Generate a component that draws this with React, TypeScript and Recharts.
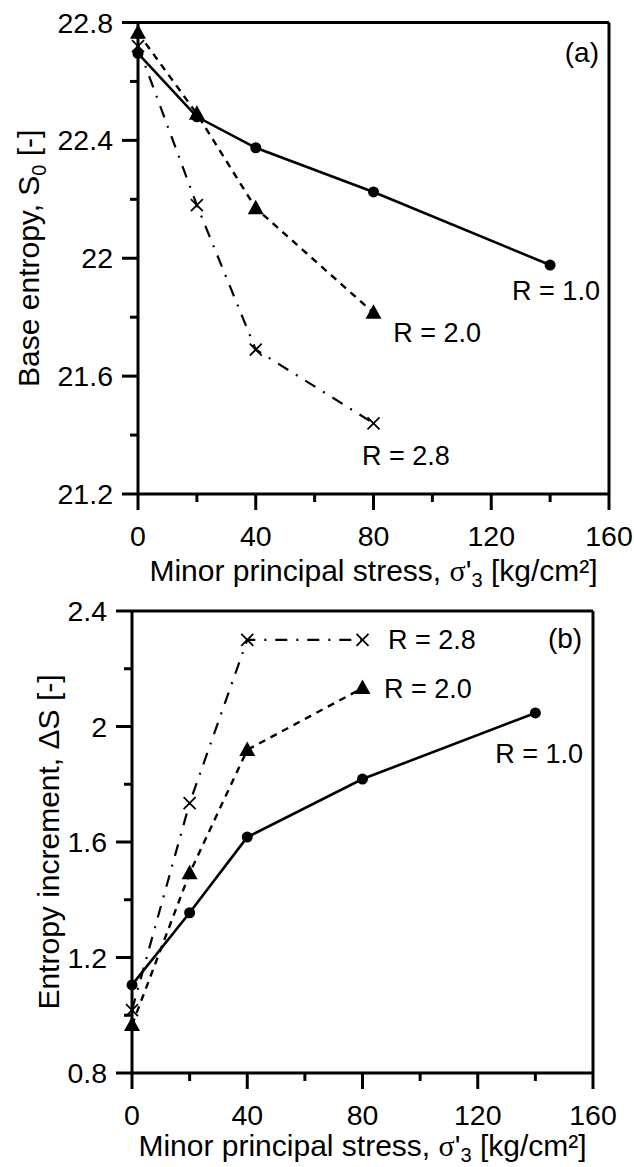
import React from 'react';
import { LineChart, Line, XAxis, YAxis, ReferenceLine, ReferenceDot, Label } from 'recharts';

// Minor principal stress levels (kg/cm²)
const stress = [0, 20, 40, 80, 140];

// (a) Base entropy S0 for each stress ratio R
const baseR10 = [22.695, 22.48, 22.375, 22.225, 21.977];
const baseR20 = [22.765, 22.49, 22.17, 21.815];
const baseR28 = [22.72, 22.18, 21.69, 21.44];

// (b) Entropy increment ΔS for each stress ratio R
const incR10 = [1.105, 1.355, 1.617, 1.818, 2.047];
const incR20 = [0.966, 1.492, 1.919, 2.133];
const incR28 = [1.018, 1.735, 2.3, 2.3];

// Axis ticks (major + minor)
const stressTicks = [0, 20, 40, 60, 80, 100, 120, 140, 160];
const baseTicks = [21.2, 21.4, 21.6, 21.8, 22.0, 22.2, 22.4, 22.6, 22.8];
const incTicks = [0.8, 1.0, 1.2, 1.4, 1.6, 1.8, 2.0, 2.2, 2.4];

const FONT = '"Liberation Sans", Arial, Helvetica, sans-serif';
const SERIF = '"Liberation Serif", "Times New Roman", serif';
const TICK_FS = 28.5;
const TITLE_FS = 30;
const NOTE_FS = 27;
const AXIS_W = 3;

const toPoints = (ys: number[]) => ys.map((y, i) => ({ x: stress[i], y }));
const fmt = (v: number) => String(Math.round(v * 10) / 10);

const XTick = (p: any) => {
  const v = p.payload.value as number;
  const major = v % 40 === 0;
  return (
    <g>
      <line x1={p.x} x2={p.x} y1={p.y} y2={p.y + (major ? 16 : 8)} stroke="#000" strokeWidth={AXIS_W} />
      {major && (
        <text x={p.x} y={p.y + 52} textAnchor="middle" fontSize={TICK_FS} fontFamily={FONT} fill="#000">
          {v}
        </text>
      )}
    </g>
  );
};

const YTick = (p: any) => {
  const v = p.payload.value as number;
  const major = Math.round(v * 10) % 4 === 0;
  return (
    <g>
      <line x1={p.x - (major ? 16 : 8)} x2={p.x} y1={p.y} y2={p.y} stroke="#000" strokeWidth={AXIS_W} />
      {major && (
        <text x={p.x - 25} y={p.y + 10} textAnchor="end" fontSize={TICK_FS} fontFamily={FONT} fill="#000">
          {fmt(v)}
        </text>
      )}
    </g>
  );
};

const circleDot = (p: any) => <circle key={p.index} cx={p.cx} cy={p.cy} r={5.5} fill="#000" />;
const triangleDot = (p: any) => (
  <polygon
    key={p.index}
    points={`${p.cx},${p.cy - 8.5} ${p.cx - 8},${p.cy + 6} ${p.cx + 8},${p.cy + 6}`}
    fill="#000"
  />
);
const crossDot = (p: any) => (
  <g key={p.index}>
    <line x1={p.cx - 6} y1={p.cy - 6} x2={p.cx + 6} y2={p.cy + 6} stroke="#000" strokeWidth={1.8} />
    <line x1={p.cx - 6} y1={p.cy + 6} x2={p.cx + 6} y2={p.cy - 6} stroke="#000" strokeWidth={1.8} />
  </g>
);

const makeXTitle = (gap: number) => (p: any) => {
  const vb = p.viewBox;
  return (
    <text x={vb.x + vb.width / 2} y={vb.y + gap} textAnchor="middle" fontSize={TITLE_FS} fontFamily={FONT} fill="#000">
      <tspan>Minor principal stress, </tspan>
      <tspan fontFamily={SERIF}>σ</tspan>
      <tspan>'</tspan>
      <tspan dy={6} fontSize={20}>3</tspan>
      <tspan dy={-6}> [kg/cm²]</tspan>
    </text>
  );
};

const makeYTitle = (main: string, sub: string | null, tail: string, bx: number) => (p: any) => {
  const vb = p.viewBox;
  const cy = vb.y + vb.height / 2;
  return (
    <text
      x={bx}
      y={cy}
      transform={`rotate(-90, ${bx}, ${cy})`}
      textAnchor="middle"
      fontSize={TITLE_FS}
      fontFamily={FONT}
      fill="#000"
    >
      <tspan>{main}</tspan>
      {sub && (
        <tspan dy={7} fontSize={20}>
          {sub}
        </tspan>
      )}
      <tspan dy={sub ? -7 : 0}>{tail}</tspan>
    </text>
  );
};

const note = (text: string, size = NOTE_FS) => ({
  value: text,
  position: 'center' as const,
  fontSize: size,
  fontFamily: FONT,
  fill: '#000',
});

type PanelProps = {
  top: number;
  height: number;
  margin: { top: number; right: number; bottom: number; left: number };
  yWidth: number;
  yDomain: [number, number];
  yTicks: number[];
  r10: number[];
  r20: number[];
  r28: number[];
  xTitle: (p: any) => React.ReactElement;
  yTitle: (p: any) => React.ReactElement;
  children?: React.ReactNode;
};

function Panel({ top, height, margin, yWidth, yDomain, yTicks, r10, r20, r28, xTitle, yTitle, children }: PanelProps) {
  return (
    <div style={{ position: 'absolute', top, left: 0, width: 634, height }}>
      <LineChart width={634} height={height} margin={margin}>
        <XAxis
          dataKey="x"
          type="number"
          domain={[0, 160]}
          ticks={stressTicks}
          interval={0}
          height={60}
          tickSize={0}
          tickMargin={0}
          tickLine={false}
          axisLine={{ stroke: '#000', strokeWidth: AXIS_W }}
          tick={(p: any) => <XTick {...p} />}
        >
          <Label content={xTitle} />
        </XAxis>
        <YAxis
          type="number"
          domain={yDomain}
          ticks={yTicks}
          interval={0}
          width={yWidth}
          tickSize={0}
          tickMargin={0}
          tickLine={false}
          axisLine={{ stroke: '#000', strokeWidth: AXIS_W }}
          tick={(p: any) => <YTick {...p} />}
        >
          <Label content={yTitle} />
        </YAxis>
        <ReferenceLine y={yDomain[1]} stroke="#000" strokeWidth={AXIS_W} />
        <ReferenceLine x={160} stroke="#000" strokeWidth={AXIS_W} />
        <Line
          data={toPoints(r28)}
          dataKey="y"
          stroke="#000"
          strokeWidth={2.2}
          strokeDasharray="12 9 2 9"
          dot={crossDot}
          activeDot={false}
          isAnimationActive={false}
        />
        <Line
          data={toPoints(r20)}
          dataKey="y"
          stroke="#000"
          strokeWidth={2.4}
          strokeDasharray="7 6"
          dot={triangleDot}
          activeDot={false}
          isAnimationActive={false}
        />
        <Line
          data={toPoints(r10)}
          dataKey="y"
          stroke="#000"
          strokeWidth={2.6}
          dot={circleDot}
          activeDot={false}
          isAnimationActive={false}
        />
        {children}
      </LineChart>
    </div>
  );
}

export default function App() {
  return (
    <div style={{ position: 'absolute', top: 0, left: 0, width: 634, height: 1167, background: '#fff' }}>
      <Panel
        top={0}
        height={600}
        margin={{ top: 22.5, right: 25, bottom: 46, left: 0 }}
        yWidth={138}
        yDomain={[21.2, 22.8]}
        yTicks={baseTicks}
        r10={baseR10}
        r20={baseR20}
        r28={baseR28}
        xTitle={makeXTitle(87)}
        yTitle={makeYTitle('Base entropy, S', '0', ' [-]', 39)}
      >
        <ReferenceDot x={150.8} y={22.7} r={1} fill="none" stroke="none" label={note('(a)', 28)} />
        <ReferenceDot x={142} y={21.892} r={1} fill="none" stroke="none" label={note('R = 1.0')} />
        <ReferenceDot x={101.6} y={21.75} r={1} fill="none" stroke="none" label={note('R = 2.0')} />
        <ReferenceDot x={91} y={21.332} r={1} fill="none" stroke="none" label={note('R = 2.8')} />
      </Panel>
      <Panel
        top={590}
        height={577}
        margin={{ top: 21, right: 41, bottom: 34, left: 0 }}
        yWidth={132}
        yDomain={[0.8, 2.4]}
        yTicks={incTicks}
        r10={incR10}
        r20={incR20}
        r28={incR28}
        xTitle={makeXTitle(83)}
        yTitle={makeYTitle('Entropy increment, ΔS [-]', null, '', 59)}
      >
        <ReferenceDot x={150.3} y={2.306} r={1} fill="none" stroke="none" label={note('(b)', 28)} />
        <ReferenceDot x={104.1} y={2.3} r={1} fill="none" stroke="none" label={note('R = 2.8')} />
        <ReferenceDot x={102.7} y={2.133} r={1} fill="none" stroke="none" label={note('R = 2.0')} />
        <ReferenceDot x={141.3} y={1.908} r={1} fill="none" stroke="none" label={note('R = 1.0')} />
      </Panel>
    </div>
  );
}
